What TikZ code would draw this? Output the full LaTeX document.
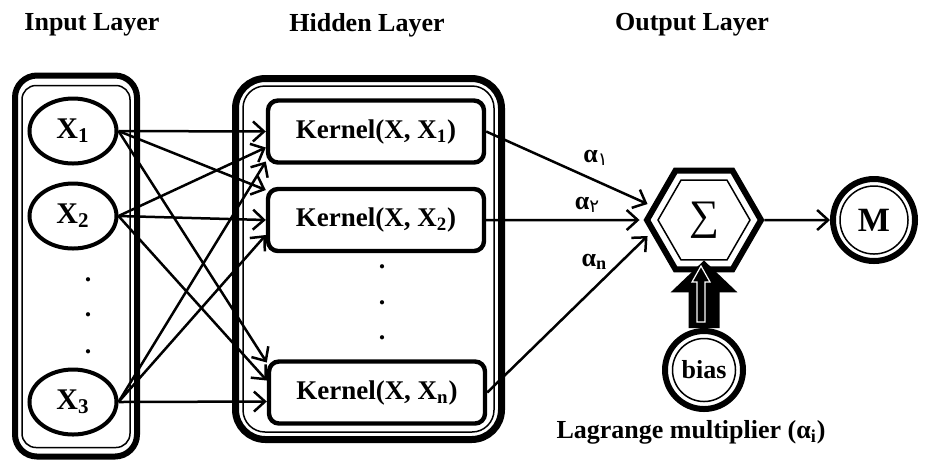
\documentclass[tikz,border=0pt]{standalone}
\usepackage{fontspec}
\setmainfont{Liberation Serif}
\newfontfamily\arabicfont[Script=Arabic]{DejaVu Sans}
\TeXXeTstate=1
\usetikzlibrary{shapes,arrows.meta,positioning,calc}
\tikzset{
lbl/.style = {font=\fontsize{13}{15}\selectfont\bfseries, inner sep=0pt},
vdot/.style = {font=\fontsize{13}{15}\selectfont\bfseries, inner sep=0pt},
xnode/.style = {draw, ellipse, line width=2pt, minimum width=43.5pt, minimum height=32.5pt, inner sep=0pt, font=\fontsize{15}{17}\selectfont\bfseries},
kernel/.style = {draw, fill=white, rectangle, rounded corners=5pt, line width=2.2pt, minimum width=108pt, minimum height=31pt, font=\fontsize{13.5}{15}\selectfont\bfseries},
frameout/.style = {draw, rectangle, line width=3pt, inner sep=0pt},
framein/.style = {draw, rectangle, line width=0.75pt, inner sep=0pt},
hexout/.style = {draw, regular polygon, regular polygon sides=6, line width=3pt, minimum size=57pt, inner sep=0pt},
hexin/.style = {draw, regular polygon, regular polygon sides=6, line width=0.75pt, minimum size=46pt, inner sep=0pt},
ringout/.style = {draw, circle, line width=3pt, inner sep=0pt},
ringin/.style = {draw, circle, line width=0.75pt, inner sep=0pt},
conn/.style = {-{Straight Barb[length=5.5pt,width=10pt]}, line width=1.25pt}
}
\begin{document}
\begin{tikzpicture}[x=0.5pt, y=-0.5pt, node distance=42.5pt]
\useasboundingbox (0,0) rectangle (925,463);
% titles
\node[lbl] (tin) at (92,25) {Input Layer};
\node[lbl] (thid) at (367,25) {Hidden Layer};
\node[lbl] (tout) at (692,25) {Output Layer};
% input layer
\node[frameout, rounded corners=11pt, minimum width=61pt, minimum height=190.5pt] (inframe) at (76,266) {};
\node[framein, rounded corners=7pt, minimum width=54pt, minimum height=181pt] (inframe2) at (76,266.5) {};
\node[xnode] (x1) at (73,131) {X\textsubscript{1}};
\node[xnode, below of=x1] (x2) {X\textsubscript{2}};
\node[xnode] (x3) at (73,402) {X\textsubscript{3}};
\node[vdot] (d1) at (88,280) {.};
\node[vdot, below of=d1, node distance=17.5pt] (d2) {.};
\node[vdot, below of=d2, node distance=18.5pt] (d3) {.};
% hidden layer
\node[frameout, line width=3.5pt, rounded corners=15pt, minimum width=133pt, minimum height=180.5pt] (hidframe) at (368.5,259) {};
\node[framein, rounded corners=11pt, minimum width=125.5pt, minimum height=173pt] (hidframe2) at (368.5,259) {};
\node[kernel] (k1) at (376,131.5) {Kernel(X, X\textsubscript{1})};
\node[kernel, below of=k1, node distance=44.25pt] (k2) {Kernel(X, X\textsubscript{2})};
\node[kernel] (kn) at (377,392.5) {Kernel(X, X\textsubscript{n})};
\node[vdot] (d4) at (382,267) {.};
\node[vdot, below of=d4, node distance=18pt] (d5) {.};
\node[vdot, below of=d5, node distance=17.5pt] (d6) {.};
% output layer
\node[hexout, right of=k2, node distance=164pt, font=\fontsize{21}{23}\selectfont] (sum) {∑};
\node[hexin] (sum2) at (sum) {};
\node[ringout, minimum size=41pt, right of=sum, node distance=85pt, font=\fontsize{17}{19}\selectfont\bfseries] (m) {M};
\node[ringin, minimum size=34pt] (m2) at (m) {};
\node[ringout, minimum size=39pt, below of=sum, node distance=75pt, font=\fontsize{13}{15}\selectfont\bfseries] (bias) {bias};
\node[ringin, minimum size=31.5pt] (bias2) at (bias) {};
\node[lbl, below of=bias, node distance=31pt, xshift=-6.5pt] (lag) {Lagrange multiplier (α\textsubscript{i})};
% input -> kernel
\draw[conn] (x1.east) -- (k1.west);
\draw[conn] (x1.east) -- ([yshift=15pt]k2.west);
\draw[conn] (x1.east) -- ([yshift=15pt]kn.west);
\draw[conn] (x2.east) -- ([yshift=-8pt]k1.west);
\draw[conn] (x2.east) -- (k2.west);
\draw[conn] (x2.east) -- ([yshift=6pt]kn.west);
\draw[conn] (x3.east) -- ([yshift=-15pt]k1.west);
\draw[conn] (x3.east) -- ([yshift=-7.5pt]k2.west);
\draw[conn] (x3.east) -- ([yshift=-4.5pt]kn.west);
% kernel -> sum
\draw[conn] (k1.east) -- node[lbl, pos=0.68, yshift=11.5pt] (a1) {α\textsubscript{\arabicfont\mdseries\beginR ١\endR}} ([xshift=2pt,yshift=8pt]sum.west);
\draw[conn] (k2.east) -- node[lbl, pos=0.66, yshift=7.5pt] (a2) {α\textsubscript{\arabicfont\mdseries\beginR ٢\endR}} ([xshift=-2pt]sum.west);
\draw[conn] (kn.east) -- node[lbl, pos=0.7, yshift=10.5pt, xshift=-2.5pt] (an) {α\textsubscript{n}} ([xshift=2pt,yshift=-8pt]sum.west);
\draw[conn] (sum.east) -- (m.west);
% bias -> sum
\draw[line width=15.5pt, -{Triangle[width=32.5pt,length=16pt]}] (bias.north) -- ([yshift=6pt]sum.south);
\draw[white, line width=0.6pt, fill=black] (697,322) -- (697,282) -- (692,282) -- (701,266) -- (710,282) -- (705,282) -- (705,322) -- cycle;
\end{tikzpicture}
\end{document}
